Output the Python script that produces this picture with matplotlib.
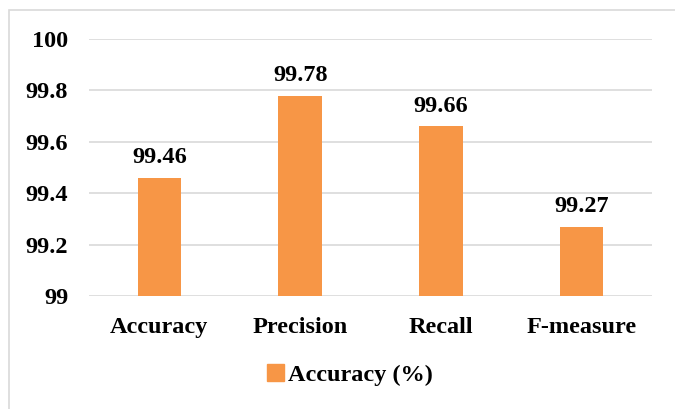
import numpy as np
import matplotlib.pyplot as plt
from matplotlib.patches import Rectangle, Patch

metrics = ["Accuracy", "Precision", "Recall", "F-measure"]
values = [99.46, 99.78, 99.66, 99.27]
yticks = [99, 99.2, 99.4, 99.6, 99.8, 100]
ytick_labels = ["99", "99.2", "99.4", "99.6", "99.8", "100"]

plt.rcParams['font.family'] = 'Liberation Serif'
plt.rcParams['font.weight'] = 'bold'

W, H = 675, 409
fig = plt.figure(figsize=(W / 100, H / 100), dpi=100)
ax = fig.add_axes([89 / W, 1 - 296 / H, (652 - 89) / W, (296 - 39) / H])

orange = "#F79646"
fs = 17.5
x = np.arange(len(metrics))
bars = ax.bar(x, values, width=0.31, color=orange, zorder=3)

for xi, v in zip(x, values):
    ax.annotate(f"{v:.2f}", (xi, v), xytext=(0, 7), textcoords="offset points",
                ha="center", va="bottom", fontsize=fs, fontweight="bold")

ax.set_ylim(99, 100)
ax.set_xlim(-0.5, len(metrics) - 0.5)
ax.set_yticks(yticks)
ax.set_yticklabels(ytick_labels, fontsize=fs, fontweight="bold")
ax.set_xticks(x)
ax.set_xticklabels(metrics, fontsize=fs, fontweight="bold")
ax.tick_params(length=0)
ax.tick_params(axis="y", pad=15)
ax.tick_params(axis="x", pad=15)
ax.grid(axis="y", color="#D9D9D9", linewidth=1.2, zorder=0)
for s in ax.spines.values():
    s.set_visible(False)

# outer chart border
fig.patches.append(Rectangle((9 / W, -0.1), 1.2, 1 - 10 / H + 0.1,
                             transform=fig.transFigure, fill=False,
                             edgecolor="#D9D9D9", linewidth=1.2))

fig.legend(handles=[Patch(color=orange, label="Accuracy (%)")],
           loc="center", bbox_to_anchor=(350 / W, 1 - 375 / H), frameon=False,
           prop={"size": fs, "weight": "bold"}, handlelength=0.7,
           handleheight=0.7, handletextpad=0.2)

fig.savefig("out.png", dpi=100)
